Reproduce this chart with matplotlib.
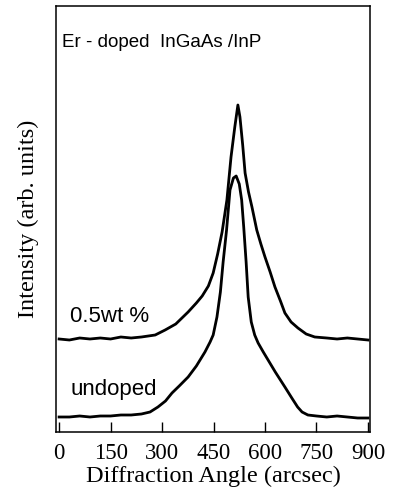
import numpy as np
import matplotlib.pyplot as plt

# courbes (angle en arcsec, intensite en unites arbitraires)
angle_dope = [0, 30, 60, 90, 120, 150, 180, 210, 240, 260, 280, 309, 340, 376, 400,
              417, 435, 449, 462, 475, 489, 501, 512, 521, 527, 535, 542, 552, 562,
              576, 588, 600, 615, 629, 645, 658, 676, 696, 720, 745, 780, 810, 840,
              870, 900]
int_dope = [93, 92, 94, 93, 94, 93, 95, 94, 95, 96, 97, 102, 108, 120, 129,
            136, 146, 159, 178, 200, 232, 275, 305, 327, 315, 287, 259, 240, 225,
            202, 188, 175, 160, 145, 131, 119, 110, 104, 98, 95, 94, 93, 94,
            93, 92]

angle_nondope = [0, 30, 60, 90, 120, 150, 180, 210, 240, 265, 288, 310, 329, 350, 376,
                 400, 425, 440, 449, 460, 470, 478, 488, 498, 508, 516, 525, 532, 538,
                 545, 551, 560, 570, 580, 595, 609, 630, 658, 680, 695, 708, 725, 750,
                 780, 810, 840, 870, 900]
int_nondope = [15, 15, 16, 15, 16, 16, 17, 17, 18, 20, 25, 31, 39, 46, 55,
               66, 80, 90, 97, 115, 140, 170, 202, 242, 254, 256, 248, 232, 205,
               170, 135, 110, 97, 89, 80, 72, 60, 45, 33, 25, 20, 17, 16,
               15, 16, 15, 14, 14]

xticks = [0, 150, 300, 450, 600, 750, 900]

fig = plt.figure(figsize=(3.93, 5.0), dpi=100)
ax = fig.add_axes([0.1425, 0.136, 0.799, 0.852])

ax.plot(angle_dope, int_dope, color="black", linewidth=2)
ax.plot(angle_nondope, int_nondope, color="black", linewidth=2)

ax.set_xlim(-9, 906)
ax.set_ylim(0, 426)
ax.set_xticks(xticks)
ax.set_xticklabels([str(t) for t in xticks], family="Liberation Serif", fontsize=16.5)
ax.set_yticks([])
ax.tick_params(axis="x", direction="in", length=7, width=1, pad=8)
for s in ax.spines.values():
    s.set_linewidth(1.1)

ax.set_xlabel("Diffraction Angle (arcsec)", family="Liberation Serif", fontsize=17.5, labelpad=1)
ax.set_ylabel("Intensity (arb. units)", family="Liberation Serif", fontsize=17.5, labelpad=12)

ax.text(0.02, 0.915, "Er - doped  InGaAs /InP", transform=ax.transAxes,
        family="Liberation Sans", fontsize=13.5, va="center")
ax.text(0.045, 0.27, "0.5wt %", transform=ax.transAxes,
        family="Liberation Sans", fontsize=16, va="center")
ax.text(0.045, 0.10, "undoped", transform=ax.transAxes,
        family="Liberation Sans", fontsize=16, va="center")

plt.savefig("out.png", dpi=100)
